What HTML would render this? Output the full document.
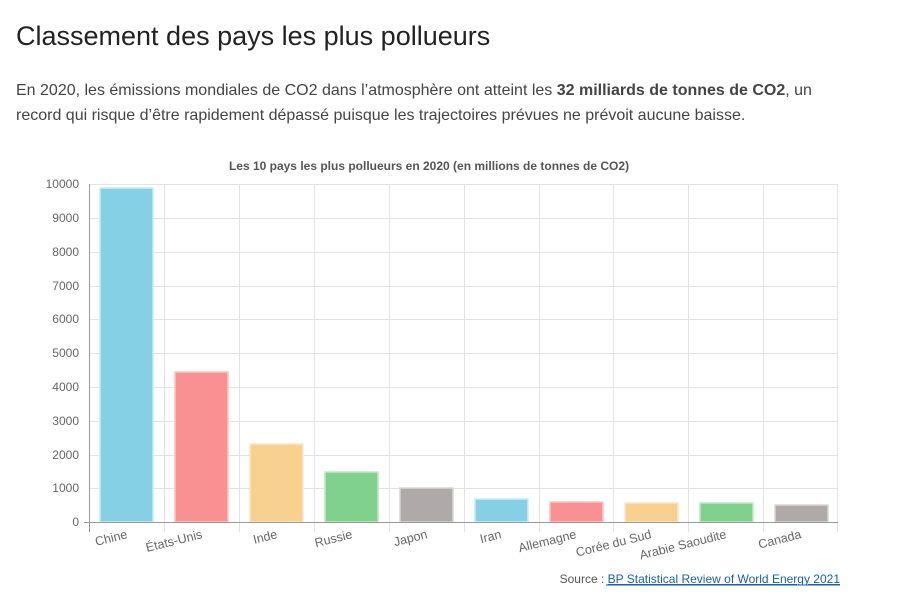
<!DOCTYPE html>
<html><head><meta charset="utf-8"><style>
body{margin:0;background:#fff;width:898px;height:597px;overflow:hidden;font-family:"Liberation Sans",sans-serif;}
h1{position:absolute;left:16px;top:21px;margin:0;font-size:27px;font-weight:normal;color:#222;}
p{position:absolute;left:16px;top:78px;margin:0;font-size:16px;line-height:25px;color:#444;width:800px;}
svg{position:absolute;left:0;top:0;}
</style></head><body>
<h1>Classement des pays les plus pollueurs</h1>
<p>En 2020, les émissions mondiales de CO2 dans l’atmosphère ont atteint les <b>32 milliards de tonnes de CO2</b>, un record qui risque d’être rapidement dépassé puisque les trajectoires prévues ne prévoit aucune baisse.</p>
<svg width="898" height="597" font-family="Liberation Sans, sans-serif">
<text x="429" y="170" text-anchor="middle" font-size="12" font-weight="bold" fill="#555">Les 10 pays les plus pollueurs en 2020 (en millions de tonnes de CO2)</text>
<g stroke="#e3e3e3" stroke-width="1">
<line x1="89" y1="184.5" x2="838" y2="184.5"/><line x1="89" y1="218.5" x2="838" y2="218.5"/><line x1="89" y1="252.5" x2="838" y2="252.5"/><line x1="89" y1="286.5" x2="838" y2="286.5"/><line x1="89" y1="319.5" x2="838" y2="319.5"/><line x1="89" y1="353.5" x2="838" y2="353.5"/><line x1="89" y1="387.5" x2="838" y2="387.5"/><line x1="89" y1="421.5" x2="838" y2="421.5"/><line x1="89" y1="455.5" x2="838" y2="455.5"/><line x1="89" y1="488.5" x2="838" y2="488.5"/>
<line x1="164.5" y1="184" x2="164.5" y2="532"/><line x1="239.5" y1="184" x2="239.5" y2="532"/><line x1="314.5" y1="184" x2="314.5" y2="532"/><line x1="389.5" y1="184" x2="389.5" y2="532"/><line x1="464.5" y1="184" x2="464.5" y2="532"/><line x1="539.5" y1="184" x2="539.5" y2="532"/><line x1="613.5" y1="184" x2="613.5" y2="532"/><line x1="688.5" y1="184" x2="688.5" y2="532"/><line x1="763.5" y1="184" x2="763.5" y2="532"/><line x1="837.5" y1="184" x2="837.5" y2="532"/>
</g>
<g stroke-width="1.5">
<rect x="100" y="188" width="53" height="334" fill="#86d0e6" stroke="#c8ecf6"/>
<rect x="175" y="372" width="53" height="150" fill="#f99092" stroke="#fcc4c5"/>
<rect x="250" y="444" width="53" height="78" fill="#f8d190" stroke="#fce6c4"/>
<rect x="325" y="472" width="53" height="50" fill="#80d18d" stroke="#bfe8c6"/>
<rect x="400" y="488" width="53" height="34" fill="#b0a9a9" stroke="#d9d5d5"/>
<rect x="475" y="499" width="53" height="23" fill="#86d0e6" stroke="#c8ecf6"/>
<rect x="550" y="502" width="53" height="20" fill="#f99092" stroke="#fcc4c5"/>
<rect x="625" y="503" width="53" height="19" fill="#f8d190" stroke="#fce6c4"/>
<rect x="700" y="503" width="53" height="19" fill="#80d18d" stroke="#bfe8c6"/>
<rect x="775" y="505" width="53" height="17" fill="#b0a9a9" stroke="#d9d5d5"/>
</g>
<line x1="89.5" y1="184" x2="89.5" y2="532" stroke="#999"/>
<line x1="84" y1="522.5" x2="838" y2="522.5" stroke="#999"/>
<g font-size="12" fill="#666" text-anchor="end">
<text x="79" y="188">10000</text><text x="79" y="222">9000</text><text x="79" y="256">8000</text><text x="79" y="290">7000</text><text x="79" y="323">6000</text><text x="79" y="357">5000</text><text x="79" y="391">4000</text><text x="79" y="425">3000</text><text x="79" y="459">2000</text><text x="79" y="492">1000</text><text x="79" y="526">0</text>
</g>
<g font-size="12.5" fill="#666" text-anchor="end">
<text transform="translate(128,538) rotate(-14)">Chine</text>
<text transform="translate(203,538) rotate(-14)">États-Unis</text>
<text transform="translate(278,538) rotate(-14)">Inde</text>
<text transform="translate(353,538) rotate(-14)">Russie</text>
<text transform="translate(428,538) rotate(-14)">Japon</text>
<text transform="translate(502,538) rotate(-14)">Iran</text>
<text transform="translate(577,538) rotate(-14)">Allemagne</text>
<text transform="translate(652,538) rotate(-14)">Corée du Sud</text>
<text transform="translate(727,538) rotate(-14)">Arabie Saoudite</text>
<text transform="translate(802,538) rotate(-14)">Canada</text>
</g>
<text x="840" y="583" text-anchor="end" font-size="12" fill="#555">Source : <tspan fill="#1a5fa8" text-decoration="underline">BP Statistical Review of World Energy 2021</tspan></text>
<line x1="606" y1="585" x2="840" y2="585" stroke="#1a5fa8"/>
</svg>
</body></html>
